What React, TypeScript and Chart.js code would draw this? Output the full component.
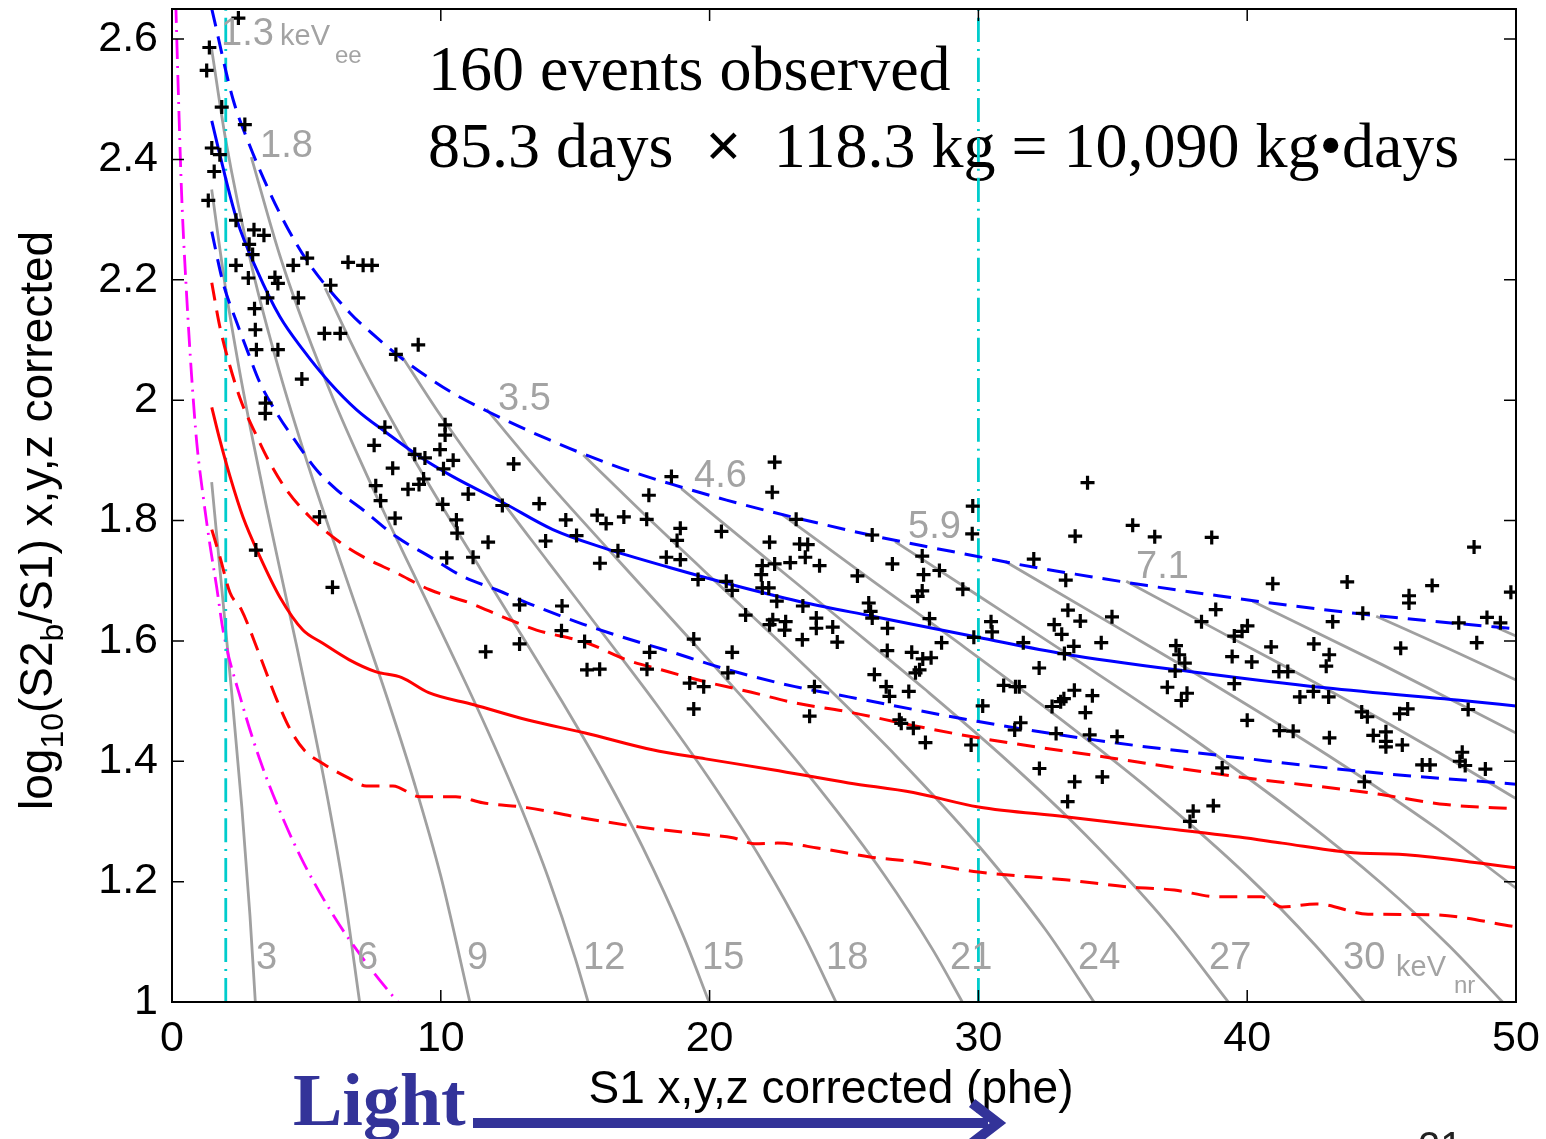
import React, { useEffect, useRef } from 'react';
import { Chart, registerables } from 'chart.js';

Chart.register(...registerables);

const SANS = '"Liberation Sans", Arial, Helvetica, sans-serif';
const SERIF = '"Liberation Serif", "Times New Roman", serif';

// ---------- axis ticks ----------
const xTicks = [0, 10, 20, 30, 40, 50];
const yTicks = [1, 1.2, 1.4, 1.6, 1.8, 2, 2.2, 2.4, 2.6];

// ---------- observed events (S1 phe, log10(S2b/S1)) ----------
const eventS1 = [
  2.47, 1.39, 1.29, 1.85, 2.71, 1.48, 1.78, 1.57, 1.35, 2.38, 3.05, 3.42, 2.87, 3.0, 2.38, 4.51, 5.03, 3.83, 3.94, 2.84,
  3.55, 4.7, 5.9, 6.55, 7.11, 7.44, 3.07, 3.1, 5.67, 6.26, 9.16, 3.14, 3.94, 8.33, 4.83, 3.48, 3.47, 7.92, 10.16, 10.16,
  7.52, 9.03, 9.41, 9.97, 10.46, 10.1, 8.21, 12.71, 9.36, 9.19, 8.78, 7.58, 7.76, 11.02, 10.07, 12.29, 13.66, 17.74, 10.58, 8.3,
  5.49, 14.65, 15.82, 16.15, 16.81, 17.66, 15.05, 10.61, 13.9, 11.76, 11.2, 10.22, 16.59, 15.92, 18.39, 3.12, 5.97, 12.93, 14.51, 14.49,
  15.35, 12.93, 11.67, 22.42, 22.33, 18.58, 18.91, 18.79, 18.91, 20.44, 23.22, 22.23, 23.35, 23.65, 26.05, 29.79, 29.77, 21.96, 22.42, 23.0,
  23.56, 24.09, 21.92, 25.5, 26.8, 27.91, 27.96, 28.55, 29.42, 27.91, 27.74, 19.57, 20.62, 20.84, 21.96, 22.2, 22.5, 23.47, 25.92, 25.99,
  26.05, 26.62, 28.18, 21.34, 22.35, 22.23, 22.83, 22.79, 23.97, 23.97, 24.58, 24.75, 23.45, 28.63, 29.83, 26.61, 27.52, 27.93, 28.24, 27.81,
  27.66, 26.13, 26.57, 26.69, 27.41, 27.06, 27.13, 27.58, 28.03, 29.73, 30.16, 23.9, 23.72, 19.41, 20.84, 20.68, 19.41, 19.26, 19.78, 17.77,
  17.67, 15.44, 15.91,
  34.06, 35.74, 33.6, 36.56, 38.68, 32.06, 33.25, 40.95, 43.72, 46.88, 48.44, 49.81, 46.02, 46.02, 33.33, 33.79, 34.97, 30.47, 30.51, 32.82,
  33.1, 31.67, 33.55, 33.2, 34.57, 38.83, 38.3, 39.52, 40.01, 39.81, 43.18, 44.3, 47.87, 48.92, 49.42, 48.54, 45.71, 37.35, 37.47, 37.68,
  37.32, 39.44, 40.17, 40.89, 42.48, 43.05, 42.94, 41.18, 41.51, 32.26, 30.94, 31.38, 31.52, 37.03, 39.52, 37.76, 37.55, 33.57, 34.24, 33.18,
  33.06, 32.74, 33.98, 41.96, 42.46, 43.03, 48.22, 45.97, 45.67, 44.26, 44.47, 40.0, 31.57, 31.35, 32.89, 34.14, 35.16, 41.2, 41.71, 43.06,
  44.69, 45.16, 45.16, 45.16, 45.77, 48.0, 47.91, 48.11, 46.51, 46.8, 48.86, 39.07, 44.36, 32.27, 33.58, 34.61, 33.32, 37.99, 37.87, 38.74,
];
const eventLog = [
  2.635, 2.586, 2.548, 2.487, 2.458, 2.419, 2.408, 2.38, 2.332, 2.299, 2.283, 2.274, 2.259, 2.242, 2.224, 2.224, 2.236, 2.204, 2.194, 2.203,
  2.17, 2.17, 2.191, 2.229, 2.224, 2.224, 2.152, 2.117, 2.111, 2.111, 2.092, 2.084, 2.084, 2.076, 2.035, 1.995, 1.978, 1.955, 1.959, 1.942,
  1.925, 1.91, 1.904, 1.918, 1.9, 1.886, 1.887, 1.894, 1.869, 1.86, 1.852, 1.858, 1.833, 1.844, 1.827, 1.825, 1.828, 1.842, 1.801, 1.804,
  1.806, 1.801, 1.809, 1.795, 1.806, 1.802, 1.775, 1.779, 1.766, 1.764, 1.739, 1.738, 1.75, 1.729, 1.739, 1.751, 1.689, 1.66, 1.658, 1.617,
  1.599, 1.595, 1.582, 1.897, 1.847, 1.873, 1.787, 1.767, 1.735, 1.782, 1.802, 1.764, 1.761, 1.76, 1.776, 1.824, 1.778, 1.725, 1.728, 1.73,
  1.739, 1.725, 1.71, 1.708, 1.728, 1.741, 1.71, 1.717, 1.686, 1.683, 1.674, 1.702, 1.699, 1.684, 1.688, 1.688, 1.666, 1.658, 1.663, 1.649,
  1.638, 1.621, 1.637, 1.643, 1.635, 1.627, 1.632, 1.618, 1.638, 1.621, 1.623, 1.598, 1.602, 1.597, 1.606, 1.584, 1.581, 1.57, 1.572, 1.552,
  1.547, 1.544, 1.524, 1.508, 1.516, 1.469, 1.463, 1.455, 1.431, 1.427, 1.492, 1.524, 1.475, 1.603, 1.581, 1.547, 1.487, 1.53, 1.524, 1.581,
  1.553, 1.552, 1.553,
  1.863, 1.792, 1.774, 1.773, 1.772, 1.736, 1.701, 1.695, 1.698, 1.692, 1.756, 1.681, 1.675, 1.663, 1.651, 1.633, 1.64, 1.632, 1.615, 1.627,
  1.611, 1.597, 1.591, 1.579, 1.597, 1.652, 1.632, 1.608, 1.625, 1.616, 1.632, 1.646, 1.63, 1.639, 1.63, 1.597, 1.588, 1.592, 1.577, 1.563,
  1.55, 1.574, 1.565, 1.59, 1.595, 1.577, 1.558, 1.549, 1.549, 1.555, 1.526, 1.524, 1.524, 1.523, 1.529, 1.513, 1.501, 1.518, 1.509, 1.504,
  1.499, 1.491, 1.481, 1.507, 1.516, 1.507, 1.486, 1.487, 1.479, 1.482, 1.474, 1.468, 1.464, 1.452, 1.446, 1.444, 1.441, 1.451, 1.45, 1.439,
  1.443, 1.449, 1.433, 1.424, 1.427, 1.415, 1.4, 1.393, 1.394, 1.394, 1.387, 1.389, 1.366, 1.388, 1.366, 1.374, 1.333, 1.317, 1.3, 1.326,
];

// ---------- electron-recoil band (blue) ----------
const erMeanS1 = [1.48, 1.85, 2.41, 3.15, 4.01, 4.87, 5.87, 6.87, 7.98, 9.22, 10.45, 12.31, 14.17, 16.03, 18.51, 21.12, 23.59, 26.06, 29.98, 33.23, 38.07, 42.9, 48.18, 50];
const erMeanLog = [2.464, 2.395, 2.3, 2.217, 2.139, 2.084, 2.029, 1.984, 1.946, 1.906, 1.873, 1.83, 1.785, 1.755, 1.722, 1.69, 1.663, 1.641, 1.606, 1.578, 1.548, 1.522, 1.5, 1.492];
const erUpperS1 = [1.48, 2.27, 2.83, 3.64, 4.31, 5.02, 6.62, 7.62, 8.59, 9.59, 10.59, 11.71, 12.83, 13.94, 15.17, 16.65, 18.62, 20.63, 22.34, 24.2, 26.06, 27.92, 29.78, 31.38, 33.6, 36.28, 38.92, 41.56, 44.2, 46.84, 50];
const erUpperLog = [2.65, 2.5, 2.43, 2.345, 2.285, 2.232, 2.145, 2.104, 2.068, 2.036, 2.008, 1.982, 1.958, 1.936, 1.913, 1.888, 1.86, 1.834, 1.814, 1.794, 1.775, 1.758, 1.742, 1.728, 1.711, 1.692, 1.675, 1.659, 1.645, 1.633, 1.62];
const erLowerS1 = [1.48, 1.9, 2.41, 2.83, 3.27, 3.89, 4.64, 5.38, 6.13, 7.1, 8.35, 9.59, 10.82, 12.07, 13.56, 15.28, 17.51, 18.2, 20.69, 23.18, 25.17, 30.0, 34.87, 39.7, 44.5, 50];
const erLowerLog = [2.28, 2.195, 2.129, 2.079, 2.029, 1.979, 1.929, 1.884, 1.851, 1.818, 1.773, 1.74, 1.707, 1.685, 1.657, 1.628, 1.596, 1.587, 1.552, 1.524, 1.507, 1.466, 1.432, 1.406, 1.382, 1.362];

// ---------- nuclear-recoil band (red) ----------
const nrUpperS1 = [1.48, 1.78, 2.16, 2.59, 3.09, 3.64, 4.26, 5.13, 6.12, 7.1, 8.35, 9.59, 11.08, 12.3, 13.56, 15.42, 16.88, 18.2, 19.85, 21.52, 23.18, 25.17, 27.5, 30.0, 34.87, 39.7, 44.5, 47.4, 50];
const nrUpperLog = [2.195, 2.122, 2.056, 1.996, 1.946, 1.896, 1.851, 1.806, 1.768, 1.74, 1.713, 1.685, 1.663, 1.64, 1.618, 1.597, 1.569, 1.552, 1.532, 1.515, 1.497, 1.482, 1.46, 1.439, 1.406, 1.374, 1.348, 1.328, 1.321];
const nrMeanS1 = [1.48, 1.78, 2.16, 2.64, 3.27, 4.01, 4.87, 5.58, 6.58, 7.57, 8.55, 9.55, 11.23, 13.2, 15.37, 17.87, 19.85, 22.34, 25.17, 27.58, 30.0, 33.23, 36.47, 39.7, 41.3, 43.72, 46.13, 50];
const nrMeanLog = [1.988, 1.934, 1.873, 1.806, 1.74, 1.673, 1.618, 1.597, 1.569, 1.549, 1.539, 1.514, 1.494, 1.469, 1.447, 1.419, 1.404, 1.386, 1.364, 1.348, 1.324, 1.308, 1.291, 1.274, 1.264, 1.249, 1.244, 1.223];
const nrLowerS1 = [1.48, 1.78, 2.16, 2.58, 3.23, 3.9, 4.41, 4.91, 5.58, 6.58, 7.23, 8.22, 9.22, 10.56, 11.56, 13.2, 14.87, 17.36, 19.85, 20.86, 21.67, 22.53, 24.01, 25.97, 27.58, 30.0, 33.23, 35.65, 37.29, 38.88, 40.52, 41.3, 42.57, 44.5, 46.9, 50];
const nrLowerLog = [1.785, 1.74, 1.68, 1.652, 1.58, 1.502, 1.452, 1.419, 1.397, 1.372, 1.359, 1.359, 1.341, 1.341, 1.331, 1.323, 1.309, 1.291, 1.278, 1.273, 1.263, 1.264, 1.256, 1.241, 1.233, 1.216, 1.203, 1.191, 1.186, 1.175, 1.175, 1.158, 1.163, 1.146, 1.145, 1.125];

// ---------- S2 threshold (magenta) and S1 window (cyan) ----------
const thrS1 = [0.14, 0.23, 0.36, 0.55, 0.73, 0.92, 1.16, 1.41, 1.66, 1.91, 2.58, 3.25, 4.08, 4.91, 6.06, 7.06, 8.4, 8.6];
const thrLog = [2.66, 2.52, 2.34, 2.17, 2.04, 1.93, 1.84, 1.76, 1.69, 1.615, 1.5, 1.405, 1.31, 1.23, 1.14, 1.075, 1.0, 0.99];
const windowS1 = [2, 30];
const windowLog = [1, 2.65];

// ---------- constant-energy contours (gray) ----------
const contourS1 = [
  [1.476, 1.8, 2.2, 2.6, 2.9, 3.1],
  [1.476, 2, 2.5, 3, 3.5, 4, 4.64, 5.2, 5.8, 6.4, 6.98],
  [1.476, 2, 3, 4, 5, 6, 7, 8, 9, 10, 11.08],
  [2.95, 4, 5, 6, 7, 8, 9, 10, 11, 12, 13, 14, 15, 15.48],
  [5.7, 7, 8.5, 10, 11.5, 13, 14.5, 16, 17.5, 19, 19.98],
  [8.55, 10, 12, 14, 16, 18, 20, 22, 23.5, 24.7],
  [11.7, 14, 16.5, 19, 21.5, 24, 26.5, 28.3, 29.4],
  [15.3, 18, 21, 24, 27, 30, 32.5, 34.3],
  [18.95, 22, 25, 28, 31, 34, 37, 39.3],
  [22.7, 26, 29.5, 33, 36.5, 40, 42.5, 44.35],
  [26.9, 30, 34, 38, 42, 45, 47.5, 49.5],
  [31, 35, 39, 43, 47, 50],
  [35.5, 39, 43, 47, 50],
  [40.2, 45, 50],
  [44.8, 47.5, 50],
  [49.3, 50],
];
const contourLog = [
  [1.864, 1.711, 1.524, 1.3225, 1.144, 1.0],
  [2.35, 2.184, 2.052, 1.935, 1.826, 1.722, 1.591, 1.472, 1.336, 1.183, 1.0],
  [2.583, 2.432, 2.216, 2.047, 1.901, 1.767, 1.637, 1.506, 1.366, 1.209, 1.0],
  [2.404, 2.242, 2.114, 2.002, 1.9, 1.803, 1.71, 1.617, 1.523, 1.425, 1.321, 1.206, 1.073, 1.0],
  [2.186, 2.065, 1.941, 1.827, 1.718, 1.61, 1.5, 1.385, 1.258, 1.112, 1.0],
  [2.073, 1.974, 1.849, 1.731, 1.614, 1.496, 1.37, 1.231, 1.111, 1.0],
  [1.985, 1.863, 1.739, 1.616, 1.492, 1.359, 1.211, 1.087, 1.0],
  [1.909, 1.792, 1.666, 1.539, 1.406, 1.26, 1.12, 1.0],
  [1.853, 1.741, 1.631, 1.52, 1.404, 1.277, 1.132, 1.0],
  [1.81, 1.702, 1.589, 1.472, 1.348, 1.21, 1.096, 1.0],
  [1.765, 1.675, 1.558, 1.437, 1.306, 1.197, 1.094, 1.0],
  [1.732, 1.627, 1.521, 1.41, 1.29, 1.189],
  [1.699, 1.615, 1.519, 1.418, 1.338],
  [1.666, 1.561, 1.447],
  [1.641, 1.587, 1.535],
  [1.622, 1.608],
];

// ---------- text ----------
const GRAY_LABELS = [
  { t: '1.3', x: 221, y: 45, s: 38 },
  { t: 'keV', x: 280, y: 45, s: 29 },
  { t: 'ee', x: 335, y: 63, s: 24 },
  { t: '1.8', x: 260, y: 157, s: 38 },
  { t: '3.5', x: 498, y: 410, s: 38 },
  { t: '4.6', x: 694, y: 487, s: 38 },
  { t: '5.9', x: 908, y: 538, s: 38 },
  { t: '7.1', x: 1136, y: 578, s: 38 },
  { t: '3', x: 256, y: 969, s: 38 },
  { t: '6', x: 357, y: 969, s: 38 },
  { t: '9', x: 467, y: 969, s: 38 },
  { t: '12', x: 583, y: 969, s: 38 },
  { t: '15', x: 702, y: 969, s: 38 },
  { t: '18', x: 826, y: 969, s: 38 },
  { t: '21', x: 950, y: 969, s: 38 },
  { t: '24', x: 1078, y: 969, s: 38 },
  { t: '27', x: 1209, y: 969, s: 38 },
  { t: '30', x: 1343, y: 969, s: 38 },
  { t: 'keV', x: 1396, y: 976, s: 29 },
  { t: 'nr', x: 1454, y: 993, s: 24 },
];
const HEADLINE_1 = '160 events observed';
const HEADLINE_2_RUNS = [
  { t: '85.3 days  ', bold: false },
  { t: '\u00d7', bold: true },
  { t: '  118.3 kg = 10,090 kg\u2022days', bold: false },
];
const X_TITLE = 'S1 x,y,z corrected (phe)';
const Y_TITLE_RUNS = [
  { t: 'log', sub: false },
  { t: '10', sub: true },
  { t: '(S2', sub: false },
  { t: 'b', sub: true },
  { t: '/S1) x,y,z corrected', sub: false },
];

const pts = (xs: number[], ys: number[]) => xs.map((x, i) => ({ x, y: ys[i] }));

const overlay = {
  id: 'overlay',
  beforeDatasetsDraw(chart: any) {
    const ctx = chart.ctx;
    ctx.save();
    ctx.fillStyle = '#000';
    ctx.textBaseline = 'alphabetic';
    ctx.textAlign = 'left';
    ctx.font = `64px ${SERIF}`;
    ctx.fillText(HEADLINE_1, 428, 90);
    let hx = 428;
    HEADLINE_2_RUNS.forEach((r) => {
      ctx.font = `${r.bold ? 'bold ' : ''}64px ${SERIF}`;
      ctx.fillText(r.t, hx, 167);
      hx += ctx.measureText(r.t).width;
    });
    ctx.restore();
  },
  afterDatasetsDraw(chart: any) {
    const ctx = chart.ctx;
    const { left, right, top, bottom } = chart.chartArea;
    const xs = chart.scales.x;
    const ys = chart.scales.y;
    ctx.save();
    // gray contour labels
    ctx.fillStyle = '#a3a3a3';
    ctx.textAlign = 'left';
    ctx.textBaseline = 'alphabetic';
    GRAY_LABELS.forEach((l) => {
      ctx.font = `${l.s}px ${SANS}`;
      ctx.fillText(l.t, l.x, l.y);
    });
    // frame
    ctx.strokeStyle = '#000';
    ctx.lineWidth = 2;
    ctx.strokeRect(left, top, right - left, bottom - top);
    // inward ticks
    ctx.lineWidth = 1.5;
    const tl = 12;
    ctx.beginPath();
    xTicks.forEach((v) => {
      const p = xs.getPixelForValue(v);
      ctx.moveTo(p, bottom);
      ctx.lineTo(p, bottom - tl);
      ctx.moveTo(p, top);
      ctx.lineTo(p, top + tl);
    });
    yTicks.forEach((v) => {
      const p = ys.getPixelForValue(v);
      ctx.moveTo(left, p);
      ctx.lineTo(left + tl, p);
      ctx.moveTo(right, p);
      ctx.lineTo(right - tl, p);
    });
    ctx.stroke();
    ctx.restore();
  },
  afterDraw(chart: any) {
    const ctx = chart.ctx;
    ctx.save();
    ctx.fillStyle = '#000';
    ctx.textBaseline = 'alphabetic';
    // x title
    ctx.font = `46px ${SANS}`;
    ctx.textAlign = 'center';
    ctx.fillText(X_TITLE, 831, 1103);
    // y title (rotated, with subscripts)
    ctx.textAlign = 'left';
    ctx.save();
    ctx.translate(52, 810);
    ctx.rotate(-Math.PI / 2);
    let cx = 0;
    Y_TITLE_RUNS.forEach((r) => {
      ctx.font = `${r.sub ? 32 : 46}px ${SANS}`;
      ctx.fillText(r.t, cx, r.sub ? 11 : 0);
      cx += ctx.measureText(r.t).width;
    });
    ctx.restore();
    // "Light" arrow
    ctx.fillStyle = '#333399';
    ctx.strokeStyle = '#333399';
    ctx.font = `bold 74px ${SERIF}`;
    ctx.fillText('Light', 293, 1125);
    ctx.fillRect(473, 1118, 515, 10);
    ctx.lineWidth = 10;
    ctx.lineCap = 'butt';
    ctx.beginPath();
    ctx.moveTo(972, 1103);
    ctx.lineTo(998, 1123);
    ctx.lineTo(972, 1143);
    ctx.stroke();
    // slide number fragment at the very bottom
    ctx.fillStyle = '#222';
    ctx.font = `40px ${SANS}`;
    ctx.fillText('21', 1418, 1160);
    ctx.restore();
  },
};

export default function App() {
  const ref = useRef<HTMLCanvasElement>(null);

  useEffect(() => {
    document.body.style.margin = '0';
    const canvas = ref.current;
    if (!canvas) return;

    const line = (xs: number[], ys: number[], color: string, width: number, dash: number[] = []) => ({
      data: pts(xs, ys),
      showLine: true,
      borderColor: color,
      borderWidth: width,
      borderDash: dash,
      pointRadius: 0,
      pointHoverRadius: 0,
      fill: false,
      cubicInterpolationMode: 'monotone' as const,
    });

    const datasets: any[] = [
      {
        data: pts(eventS1, eventLog),
        showLine: false,
        pointStyle: 'cross',
        pointRadius: 7,
        pointHoverRadius: 7,
        pointBorderWidth: 3.2,
        pointBorderColor: '#000',
        pointBackgroundColor: '#000',
      },
      line(erMeanS1, erMeanLog, '#0000ff', 3),
      line(erUpperS1, erUpperLog, '#0000ff', 3, [18, 10]),
      line(erLowerS1, erLowerLog, '#0000ff', 3, [18, 10]),
      line(nrMeanS1, nrMeanLog, '#ff0000', 3),
      line(nrUpperS1, nrUpperLog, '#ff0000', 3, [18, 10]),
      line(nrLowerS1, nrLowerLog, '#ff0000', 3, [18, 10]),
      line([windowS1[0], windowS1[0]], windowLog, '#00cccc', 2.8, [24, 7, 2, 7]),
      line([windowS1[1], windowS1[1]], windowLog, '#00cccc', 2.8, [24, 7, 2, 7]),
      line(thrS1, thrLog, '#ff00ff', 2.8, [20, 7, 2, 7]),
      ...contourS1.map((xs, i) => line(xs, contourLog[i], '#a0a0a0', 2.8)),
    ];

    const chart = new Chart(canvas, {
      type: 'scatter',
      data: { datasets },
      options: {
        animation: false,
        responsive: false,
        devicePixelRatio: 1,
        events: [],
        layout: { autoPadding: false, padding: { left: 0, right: 30, top: 9, bottom: 0 } },
        plugins: { legend: { display: false }, tooltip: { enabled: false } },
        scales: {
          x: {
            type: 'linear',
            min: 0,
            max: 50,
            grid: { display: false, drawTicks: false },
            border: { display: false },
            ticks: { color: '#000', font: { family: SANS, size: 43 }, padding: 11, maxRotation: 0 },
            afterBuildTicks: (s: any) => {
              s.ticks = xTicks.map((v) => ({ value: v }));
            },
            afterFit: (s: any) => {
              s.height = 137;
              s.paddingLeft = 0;
              s.paddingRight = 0;
              s.paddingTop = 0;
              s.paddingBottom = 0;
            },
          },
          y: {
            type: 'linear',
            min: 1,
            max: 2.65,
            grid: { display: false, drawTicks: false },
            border: { display: false },
            ticks: {
              color: '#000',
              font: { family: SANS, size: 43 },
              padding: 14,
              callback: (v: any) => String(Math.round(Number(v) * 10) / 10),
            },
            afterBuildTicks: (s: any) => {
              s.ticks = yTicks.map((v) => ({ value: v }));
            },
            afterFit: (s: any) => {
              s.width = 172;
              s.paddingLeft = 0;
              s.paddingRight = 0;
              s.paddingTop = 0;
              s.paddingBottom = 0;
            },
          },
        },
      },
      plugins: [overlay],
    });

    return () => chart.destroy();
  }, []);

  return (
    <div style={{ width: 1546, height: 1139, background: '#fff' }}>
      <canvas ref={ref} width={1546} height={1139} style={{ display: 'block' }} />
    </div>
  );
}
